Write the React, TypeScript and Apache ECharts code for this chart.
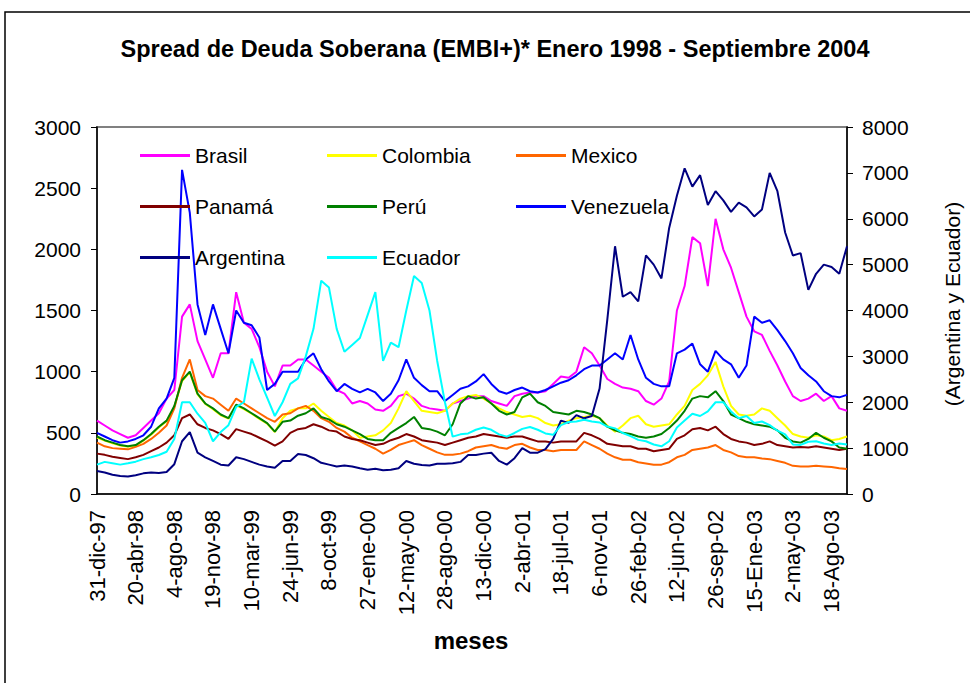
import React, { useEffect, useRef } from "react";
import * as echarts from "echarts";

// Tick labels on the category axis (one every 5 samples)
const tickLabels = [
  "31-dic-97", "20-abr-98", "4-ago-98", "19-nov-98", "10-mar-99",
  "24-jun-99", "8-oct-99", "27-ene-00", "12-may-00", "28-ago-00",
  "13-dic-00", "2-abr-01", "18-jul-01", "6-nov-01", "26-feb-02",
  "12-jun-02", "26-sep-02", "15-Ene-03", "2-may-03", "18-Ago-03",
];
const SAMPLES_PER_LABEL = 5;

// Left axis (bp)
const brasil = [
  600, 560, 520, 490, 460, 480, 540, 600, 660, 780,
  850, 1450, 1550, 1250, 1100, 950, 1150, 1150, 1650, 1400,
  1350, 1200, 1000, 880, 1050, 1050, 1100, 1100, 1050, 1000,
  950, 850, 820, 740, 760, 740, 690, 680, 720, 800,
  820, 780, 720, 700, 690, 680, 740, 760, 780, 800,
  800, 760, 740, 720, 800, 820, 830, 830, 840, 900,
  960, 950, 1000, 1200, 1150, 1050, 940, 900, 870, 860,
  840, 760, 730, 780, 920, 1500, 1700, 2100, 2050, 1700,
  2250, 2000, 1850, 1650, 1450, 1330, 1300, 1170, 1050, 920,
  800, 760, 780, 820, 760, 800, 700, 680,
];
const colombia = [
  462, 436, 414, 396, 386, 394, 436, 484, 544, 594,
  714, 924, 994, 814, 736, 694, 644, 616, 724, 694,
  656, 614, 576, 506, 620, 680, 700, 700, 740, 680,
  630, 580, 560, 520, 460, 470, 480, 520, 580, 700,
  840, 760, 680, 670, 660, 680, 740, 780, 800, 810,
  780, 740, 700, 670, 650, 630, 640, 620, 580, 560,
  570, 600, 620, 630, 640, 620, 560, 510, 560, 620,
  640, 570, 550, 560, 570, 650, 720, 850, 900, 970,
  1080, 880, 720, 650, 640, 650, 700, 680, 620, 560,
  490, 470, 460, 480, 470, 440, 450, 470,
];
const mexico = [
  420, 390, 375, 370, 365, 385, 410, 450, 500, 560,
  700, 950, 1100, 850, 800, 780, 730, 680, 780, 740,
  700, 660, 620, 590, 650, 660, 700, 720, 680, 620,
  590, 540, 510, 460, 430, 400, 370, 330, 360, 400,
  420, 440, 400, 370, 340, 320, 320, 330, 350, 380,
  390, 400, 380, 370, 400, 410, 380, 360, 360, 350,
  360, 360, 360, 430, 400, 370, 330, 300, 280, 280,
  260, 250, 240, 240, 260, 300, 320, 360, 370, 380,
  400, 360, 340, 310, 300, 300, 290, 285, 270, 255,
  230, 225, 225, 230, 225, 220, 210, 205,
];
const panama = [
  330, 320, 305, 295, 285, 300, 320, 350, 380, 420,
  480, 620, 650, 570, 540, 520, 490, 450, 530, 510,
  490, 460, 430, 395, 430, 500, 530, 540, 570, 550,
  520, 510, 470, 450, 440, 420, 400, 410, 440, 460,
  490, 470, 440, 430, 420, 400, 420, 440, 460, 470,
  490, 480, 470, 460, 470, 470, 450, 430, 430, 420,
  430, 430, 430, 500, 480, 450, 410, 400, 390, 390,
  370, 370, 350, 360, 370, 450, 480, 530, 540, 520,
  550, 490, 450, 430, 420, 400, 410, 430, 400, 390,
  380, 385, 380, 390, 380, 370, 360, 370,
];
const peru = [
  470, 440, 420, 400, 390, 400, 440, 490, 550, 600,
  720, 930, 1000, 820, 740, 700, 650, 620, 730, 700,
  660, 620, 580, 510, 590, 600, 640, 660, 700, 630,
  610, 570, 550, 520, 490, 450, 440, 440, 500, 540,
  580, 630, 540, 530, 510, 480, 570, 740, 800, 780,
  790, 740, 680, 650, 670, 790, 820, 750, 720, 670,
  660, 650, 680, 670, 650, 620, 550, 520, 500, 490,
  470, 460, 470, 490, 540, 600, 680, 780, 800, 790,
  840, 760, 650, 620, 590, 570, 560, 550, 520, 460,
  430, 420, 450, 500, 460, 430, 380, 370,
];
const venezuela = [
  500, 470, 440, 420, 430, 450, 480, 550, 700, 780,
  950, 2650, 2300, 1550, 1300, 1550, 1350, 1150, 1500, 1400,
  1380, 1280, 850, 900, 1000, 1000, 1000, 1100, 1150, 1020,
  920, 840, 900, 860, 830, 860, 830, 760, 820, 930,
  1100, 950, 890, 840, 840, 760, 810, 860, 880, 920,
  980, 900, 840, 820, 850, 870, 840, 830, 850, 880,
  910, 930, 970, 1020, 1050, 1050, 1100, 1150, 1100, 1300,
  1100, 950, 900, 880, 880, 1150, 1180, 1230, 1060, 1000,
  1170, 1100, 1060, 950, 1050, 1450, 1400, 1420, 1340, 1250,
  1150, 1030, 970, 920, 840, 800, 790, 810,
];
// Right axis (Argentina y Ecuador)
const argentina = [
  500, 470, 420, 390, 380, 410, 450, 470, 460, 480,
  650, 1150, 1350, 900, 800, 720, 640, 620, 800, 760,
  700, 640, 600, 570, 720, 720, 870, 850, 780, 680,
  640, 600, 620, 600, 560, 530, 550, 520, 530, 560,
  720, 660, 630, 620, 660, 660, 670, 700, 850, 850,
  880, 900, 720, 640, 780, 1000, 900, 900, 980, 1200,
  1600, 1550, 1720, 1650, 1700, 2300, 3800, 5400, 4300, 4400,
  4200, 5200, 5000, 4700, 5800, 6500, 7100, 6700, 6950, 6300,
  6600, 6400, 6150, 6350, 6250, 6050, 6200, 7000, 6600, 5700,
  5200, 5250, 4450, 4800, 5000, 4950, 4800, 5400,
];
const ecuador = [
  640, 700, 670, 640, 670, 705, 760, 800, 850, 920,
  1200, 2000, 2000, 1750, 1550, 1150, 1350, 1500, 1900, 2000,
  2950, 2500, 2100, 1700, 2000, 2400, 2520, 3000, 3600, 4650,
  4500, 3600, 3100, 3250, 3400, 3900, 4400, 2900, 3300, 3200,
  4000, 4750, 4600, 4000, 2900, 2000, 1250, 1300, 1320, 1400,
  1450, 1400, 1300, 1250, 1330, 1420, 1460, 1400, 1320, 1290,
  1500, 1570, 1580, 1620, 1580, 1560, 1470, 1430, 1330, 1260,
  1180, 1150, 1080, 1040, 1150, 1450, 1600, 1750, 1700, 1800,
  2000, 2000, 1800, 1650, 1700, 1550, 1580, 1500, 1380, 1300,
  1080, 1070, 1140, 1150, 1100, 1070, 1100, 1080,
];

const leftTicks = { min: 0, max: 3000, interval: 500 };
const rightTicks = { min: 0, max: 8000, interval: 1000 };

const FONT = "'Liberation Sans', Arial, sans-serif";

export default function App() {
  const ref = useRef<HTMLDivElement>(null);
  useEffect(() => {
    if (!ref.current) return;
    const chart = echarts.init(ref.current, null, { renderer: "svg" });
    const n = brasil.length;
    const categories = Array.from({ length: n }, (_, i) =>
      i % SAMPLES_PER_LABEL === 0 && tickLabels[i / SAMPLES_PER_LABEL]
        ? tickLabels[i / SAMPLES_PER_LABEL]
        : "p" + i
    );
    const mk = (name: string, data: number[], color: string, yAxisIndex = 0) => ({
      name,
      type: "line",
      data,
      yAxisIndex,
      showSymbol: false,
      symbol: "none",
      color,
      lineStyle: { color, width: 2 },
      emphasis: { disabled: true },
    });
    const legendBase = {
      orient: "vertical",
      top: 145,
      padding: 0,
      itemWidth: 50,
      itemHeight: 3,
      itemGap: 30,
      icon: "rect",
      textStyle: { fontFamily: FONT, fontSize: 21, color: "#000", lineHeight: 21 },
      selectedMode: false,
    };
    const plain = (v: number) => String(v);
    chart.setOption({
      animation: false,
      backgroundColor: "#fff",
      grid: {
        left: 97,
        right: 123,
        top: 127,
        bottom: 189,
        show: true,
        borderColor: "#808080",
        borderWidth: 2,
      },
      legend: [
        { ...legendBase, left: 140, data: ["Brasil", "Panamá", "Argentina"] },
        { ...legendBase, left: 327, data: ["Colombia", "Perú", "Ecuador"] },
        { ...legendBase, left: 516, data: ["Mexico", "Venezuela"] },
      ],
      xAxis: {
        type: "category",
        data: categories,
        boundaryGap: false,
        axisLine: { lineStyle: { color: "#000", width: 1.5 } },
        axisTick: { show: false },
        axisLabel: {
          interval: (i: number) => i % SAMPLES_PER_LABEL === 0 && i / SAMPLES_PER_LABEL < tickLabels.length,
          rotate: 90,
          margin: 16,
          fontFamily: FONT,
          fontSize: 22,
          color: "#000",
        },
        splitLine: { show: false },
      },
      yAxis: [
        {
          type: "value",
          ...leftTicks,
          position: "left",
          axisLine: { show: true, lineStyle: { color: "#000", width: 1.5 } },
          axisTick: { show: true, length: 6, lineStyle: { color: "#000" } },
          axisLabel: { margin: 16, fontFamily: FONT, fontSize: 21, color: "#000", formatter: plain },
          splitLine: { show: false },
        },
        {
          type: "value",
          ...rightTicks,
          position: "right",
          axisLine: { show: true, lineStyle: { color: "#000", width: 1.5 } },
          axisTick: { show: true, length: 6, lineStyle: { color: "#000" } },
          axisLabel: { margin: 15, fontFamily: FONT, fontSize: 21, color: "#000", formatter: plain },
          splitLine: { show: false },
        },
      ],
      graphic: [
        {
          type: "rect",
          shape: { x: 5, y: 12, width: 1000, height: 700 },
          style: { fill: "none", stroke: "#000", lineWidth: 1.5 },
          silent: true,
        },
        {
          type: "text",
          x: 495,
          y: 49,
          style: {
            text: "Spread de Deuda Soberana (EMBI+)* Enero 1998 - Septiembre 2004",
            font: `bold 23.5px ${FONT}`,
            fill: "#000",
            textAlign: "center",
            textVerticalAlign: "middle",
          },
        },
        {
          type: "text",
          x: 471,
          y: 640,
          style: {
            text: "meses",
            font: `bold 24px ${FONT}`,
            fill: "#000",
            textAlign: "center",
            textVerticalAlign: "middle",
          },
        },
        {
          type: "text",
          x: 952,
          y: 304,
          rotation: Math.PI / 2,
          style: {
            text: "(Argentina y Ecuador)",
            font: `21px ${FONT}`,
            fill: "#000",
            textAlign: "center",
            textVerticalAlign: "middle",
          },
        },
      ],
      series: [
        mk("Brasil", brasil, "#FF00FF"),
        mk("Colombia", colombia, "#FFFF00"),
        mk("Mexico", mexico, "#FF6600"),
        mk("Panamá", panama, "#800000"),
        mk("Perú", peru, "#008000"),
        mk("Venezuela", venezuela, "#0000FF"),
        mk("Argentina", argentina, "#000080", 1),
        mk("Ecuador", ecuador, "#00FFFF", 1),
      ],
    });
    return () => chart.dispose();
  }, []);
  return (
    <div
      ref={ref}
      style={{ position: "fixed", left: 0, top: 0, width: 970, height: 683, background: "#fff" }}
    />
  );
}
